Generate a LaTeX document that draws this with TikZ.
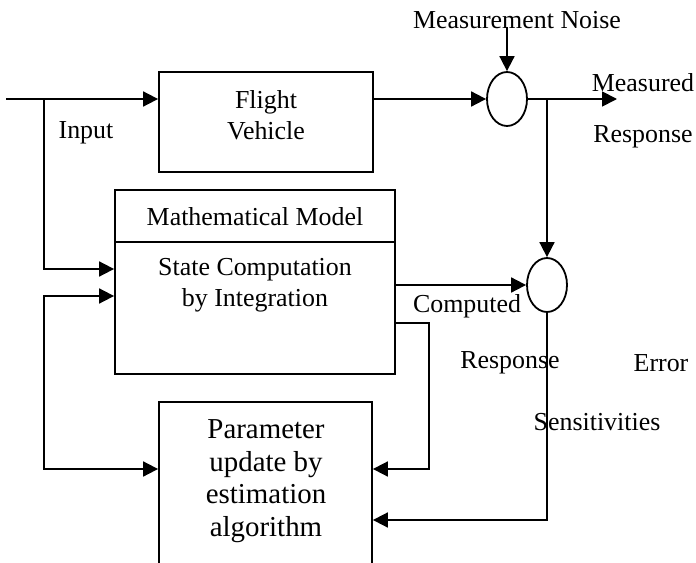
\documentclass[tikz,border=0pt]{standalone}
\usepackage{fontspec}
\setmainfont{Liberation Serif}
\usetikzlibrary{arrows.meta,shapes.geometric}
\begin{document}
\begin{tikzpicture}[x=1bp,y=-1bp,
  blk/.style={draw,line width=1.8bp,inner sep=0pt},
  sum/.style={draw,ellipse,line width=1.8bp,minimum width=40bp,minimum height=54bp,inner sep=0pt},
  arr/.style={line width=1.8bp,-{Triangle[length=15bp,width=15bp]}},
  dbl/.style={line width=1.8bp,{Triangle[length=15bp,width=15bp]}-{Triangle[length=15bp,width=15bp]}},
  txt/.style={font=\fontsize{26}{31}\selectfont,inner sep=0pt,align=center}]
\useasboundingbox (0,0) rectangle (696,563);
\clip (0,0) rectangle (696,563);

\node[blk,minimum width=214bp,minimum height=100bp] (fv) at (266,122) {};
\node[txt] (fvt) at (266,115) {Flight\\Vehicle};
\node[blk,minimum width=280bp,minimum height=52bp] (mmh) at (255,216) {};
\node[txt] (mmht) at (255,217) {Mathematical Model};
\node[blk,minimum width=280bp,minimum height=132bp] (mmb) at (255,308) {};
\node[txt] (mmbt) at (255,285) {State Computation\\by Integration};
\node[blk,minimum width=213bp,minimum height=198bp] (pu) at (265.5,501) {};
\node[txt,font=\fontsize{29}{32.7}\selectfont] (put) at (266,481) {Parameter\\update by\\estimation\\algorithm};
\node[sum] (sum1) at (507,99) {};
\node[sum] (sum2) at (547,285) {};

\coordinate (in) at (6,99);
\coordinate (brin) at (44,99);
\coordinate (nz) at (507,27);
\coordinate (out) at (617,99);
\coordinate (fbl) at (44,400);
\coordinate (cmpd) at (429,400);

\node[txt] (nzt) at (517,20) {Measurement Noise};
\node[txt] (mst) at (643,83) {Measured};
\node[txt] (rst) at (643,137) {Response};
\node[txt] (int) at (86,133) {Input};
\node[txt] (cpt) at (467,306) {Computed};
\node[txt] (crt) at (510,363) {Response};
\node[txt] (ert) at (661,363) {Error};
\node[txt] (snt) at (597,422) {Sensitivities};

\draw[arr] (in) -- (fv.west |- in);
\draw[arr] (brin) |- ([yshift=39bp]mmb.west);
\draw[arr] (fv.east |- sum1) -- (sum1);
\draw[arr] (nz) -- (sum1.north);
\draw[arr] (sum1.east) -- (out);
\draw[arr] (sum2 |- sum1) -- (sum2.north);
\draw[arr] (mmb.east |- sum2) -- (sum2);
\draw[dbl] ([yshift=12bp]mmb.west) -| (fbl) |- ([yshift=32bp]pu.west);
\draw[arr] ([yshift=-15bp]mmb.east) -| (cmpd) |- ([yshift=32bp]pu.east);
\draw[arr] (sum2.south) |- ([yshift=-19bp]pu.east);
\end{tikzpicture}
\end{document}
